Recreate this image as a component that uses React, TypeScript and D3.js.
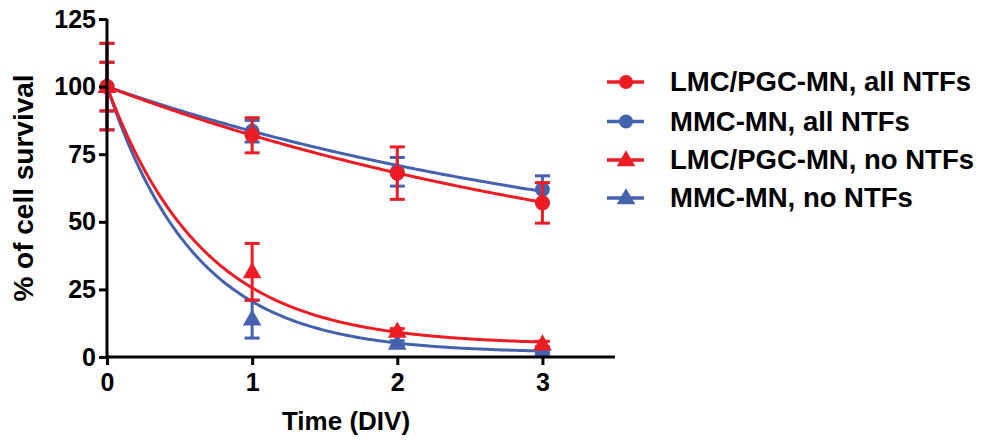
import { useEffect, useRef } from "react";
import * as d3 from "d3";

// time points (DIV)
const days = [0, 1, 2, 3];

const seriesNames = [
  "LMC/PGC-MN, all NTFs",
  "MMC-MN, all NTFs",
  "LMC/PGC-MN, no NTFs",
  "MMC-MN, no NTFs",
];
const seriesColors = ["#ED1C24", "#4462AE", "#ED1C24", "#4462AE"];
const seriesShapes = ["circle", "circle", "triangle", "triangle"];

// mean survival (%) per series
const lmcAllMean = [100, 82, 68, 57];
const mmcAllMean = [100, 83.5, 68.5, 62];
const lmcNoMean = [100, 31.5, 9.5, 4.8];
const mmcNoMean = [100, 14, 5, 2];

// error (SEM) per series
const lmcAllErr = [9, 6.5, 9.7, 7.5];
const mmcAllErr = [9, 4, 5.3, 5];
const lmcNoErr = [16, 10.5, 1, 1];
const mmcNoErr = [16, 7, 1, 0.5];

// one-phase decay fits: [Y0, plateau, K]
const lmcAllFit = [100, 20, 0.255];
const mmcAllFit = [100, 30, 0.269];
const lmcNoFit = [100, 4.5, 1.51];
const mmcNoFit = [100, 1.5, 1.645];

const yTicks = [0, 25, 50, 75, 100, 125];
const xTicks = [0, 1, 2, 3];

const means = [lmcAllMean, mmcAllMean, lmcNoMean, mmcNoMean];
const errs = [lmcAllErr, mmcAllErr, lmcNoErr, mmcNoErr];
const fits = [lmcAllFit, mmcAllFit, lmcNoFit, mmcNoFit];

const width = 981;
const height = 441;
const margin = { left: 107, top: 19, right: 366, bottom: 84 };
const font = "Arial, 'Liberation Sans', Helvetica, sans-serif";

export default function App() {
  const svgRef = useRef<SVGSVGElement>(null);

  useEffect(() => {
    const svg = d3.select(svgRef.current);
    svg.selectAll("*").remove();

    const x = d3.scaleLinear().domain([0, 3.5]).range([margin.left, width - margin.right]);
    const y = d3.scaleLinear().domain([0, 125]).range([height - margin.bottom, margin.top]);

    // fitted curves
    const curveX = d3.range(0, 3.0001, 0.02);
    const line = d3
      .line<number>()
      .x((d) => x(d))
      .curve(d3.curveBasis);

    const order = [1, 0, 3, 2];
    order.forEach((i) => {
      const [y0, p, k] = fits[i];
      svg
        .append("path")
        .datum(curveX)
        .attr("fill", "none")
        .attr("stroke", seriesColors[i])
        .attr("stroke-width", 3)
        .attr("d", line.y((t) => y((y0 - p) * Math.exp(-k * t) + p)));
    });

    const tri = d3.symbol().type(d3.symbolTriangle).size(150);

    // error bars + markers
    order.forEach((i) => {
      const g = svg.append("g");
      const c = seriesColors[i];
      days.forEach((d, j) => {
        const m = means[i][j];
        const e = errs[i][j];
        const cx = x(d);
        g.append("line")
          .attr("x1", cx).attr("x2", cx)
          .attr("y1", y(m + e)).attr("y2", y(m - e))
          .attr("stroke", c).attr("stroke-width", 3);
        [m + e, m - e].forEach((v) => {
          g.append("line")
            .attr("x1", cx - 7.5).attr("x2", cx + 7.5)
            .attr("y1", y(v)).attr("y2", y(v))
            .attr("stroke", c).attr("stroke-width", 3);
        });
        if (seriesShapes[i] === "circle") {
          g.append("circle").attr("cx", cx).attr("cy", y(m)).attr("r", 7.5).attr("fill", c);
        } else {
          g.append("path")
            .attr("d", tri)
            .attr("transform", `translate(${cx},${y(m) + 1})`)
            .attr("fill", c);
        }
      });
    });

    // axes
    const yAxis = svg
      .append("g")
      .attr("transform", `translate(${margin.left},0)`)
      .call(d3.axisLeft(y).tickValues(yTicks).tickSize(8).tickPadding(3));
    const xAxis = svg
      .append("g")
      .attr("transform", `translate(0,${height - margin.bottom})`)
      .call(d3.axisBottom(x).tickValues(xTicks).tickFormat(d3.format("d")).tickSize(8).tickPadding(8));
    [yAxis, xAxis].forEach((a) => {
      a.select(".domain").attr("stroke", "#000").attr("stroke-width", 3);
      a.selectAll(".tick line").attr("stroke", "#000").attr("stroke-width", 3);
      a.selectAll(".tick text")
        .attr("fill", "#000")
        .style("font-family", font)
        .style("font-weight", "bold")
        .style("font-size", "25px");
    });
    yAxis.select(".domain").attr("d", `M0,${y(125)}V${y(0)}`);
    xAxis.select(".domain").attr("d", `M${x(0)},0H${x(3.5)}`);

    // axis titles
    svg.append("text")
      .attr("x", 346)
      .attr("y", 430)
      .attr("text-anchor", "middle")
      .style("font-family", font)
      .style("font-weight", "bold")
      .style("font-size", "26px")
      .text("Time (DIV)");
    svg.append("text")
      .attr("transform", `translate(33,${y(62.5)}) rotate(-90)`)
      .attr("text-anchor", "middle")
      .style("font-family", font)
      .style("font-weight", "bold")
      .style("font-size", "28px")
      .text("% of cell survival");

    // legend
    const legendY = [82, 121.5, 160, 198];
    seriesNames.forEach((name, i) => {
      const g = svg.append("g").attr("transform", `translate(626,${legendY[i]})`);
      g.append("line").attr("x1", -19).attr("x2", 18).attr("stroke", seriesColors[i]).attr("stroke-width", 3.5);
      if (seriesShapes[i] === "circle") {
        g.append("circle").attr("r", 7).attr("fill", seriesColors[i]);
      } else {
        g.append("path").attr("d", tri).attr("transform", "translate(0,1)").attr("fill", seriesColors[i]);
      }
      g.append("text")
        .attr("x", 44)
        .attr("y", 9)
        .style("font-family", font)
        .style("font-weight", "bold")
        .style("font-size", "27.5px")
        .text(name);
    });
  }, []);

  return (
    <svg
      ref={svgRef}
      width={width}
      height={height}
      style={{ position: "absolute", left: 0, top: 0, background: "#fff" }}
    />
  );
}
